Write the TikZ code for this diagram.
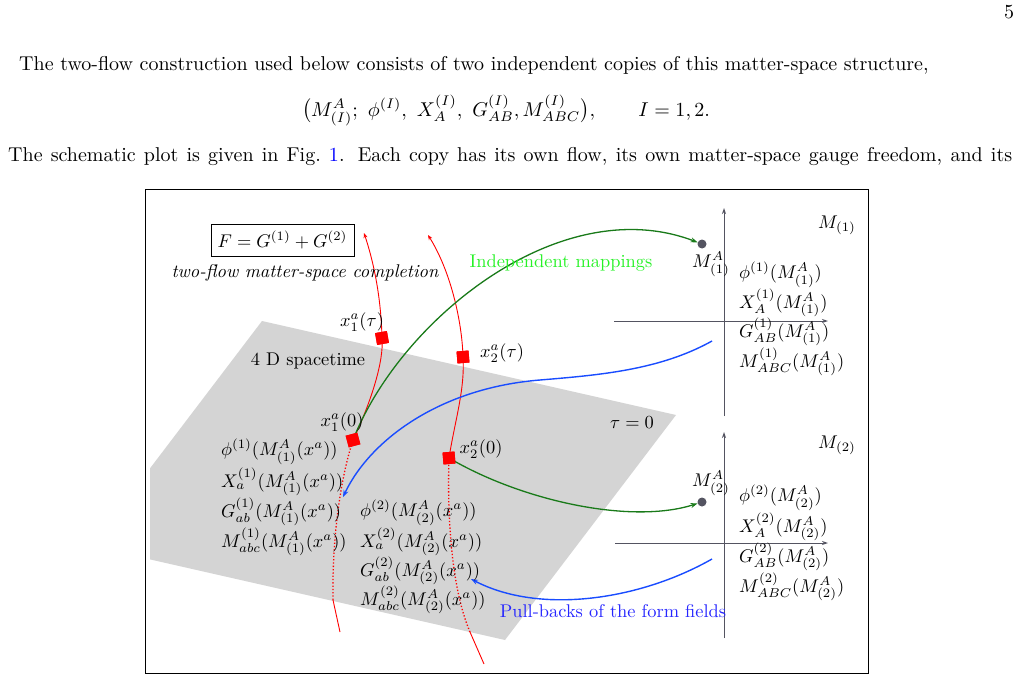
\documentclass[tikz,border=0pt]{standalone}
\usepackage{graphicx}
\usepackage{amsmath}
\usetikzlibrary{arrows.meta}
\newcommand\SBx[1]{\scalebox{1.84}{#1}}
\newcommand\SBp[1]{\scalebox{2.0}{#1}}
\definecolor{grn}{rgb}{0.1,0.48,0.1}
\definecolor{lgrn}{rgb}{0.15,0.95,0.15}
\definecolor{blu}{rgb}{0.1,0.3,1}
\definecolor{blutxt}{rgb}{0.15,0.15,1}
\definecolor{axc}{rgb}{0.33,0.33,0.38}
\definecolor{plane}{gray}{0.83}
\definecolor{linkblue}{rgb}{0,0,1}
\begin{document}
\begin{tikzpicture}[x=1pt,y=-1pt,
  txt/.style={inner sep=0pt},
  sqr/.style={fill=red,minimum size=12pt,inner sep=0pt},
  dotm/.style={circle,fill=axc,minimum size=9pt,inner sep=0pt},
  axis/.style={axc,line width=1pt,-{Stealth[length=6pt,width=4pt]}},
  redc/.style={red,line width=0.9pt},
  reddot/.style={red,line width=1.3pt,dotted},
  grnarr/.style={grn,line width=1.3pt,-{Stealth[length=7pt,width=5pt]}},
  bluarr/.style={blu,line width=1.4pt,-{Stealth[length=7pt,width=5pt]}}]
\useasboundingbox (0,0) rectangle (1020,680);
\fill[white] (0,0) rectangle (1020,680);

% page text
\node[txt,anchor=base] (pn) at (1009,19) {\SBp{5}};
\node[txt,anchor=base west] (l1) at (19,70) {\SBp{The two-flow construction used below consists of two independent copies of this matter-space structure,}};
\node[txt,anchor=base] (eq) at (506,116) {\SBp{$\bigl(M^A_{(I)};\ \phi^{(I)},\ X_A^{(I)},\ G^{(I)}_{AB}, M^{(I)}_{ABC}\bigr),\qquad I=1,2.$}};
\node[txt,anchor=base west] (l3) at (8,161) {\SBp{\hbox to 502pt{The schematic plot is given in Fig.~\textcolor{linkblue}{1}. Each copy has its own flow, its own matter-space gauge freedom, and its}}};

% frame
\draw[line width=0.9pt] (145,189) rectangle (868,673);

% plane
\begin{scope}
\clip (150,190) rectangle (867,672);
\fill[plane] (262,321) -- (676,415) -- (505,640) -- (91,546) -- cycle;
\end{scope}

% axes
\draw[axis] (724,416) -- (724,208);
\draw[axis] (614,321) -- (828,321);
\draw[axis] (724,638) -- (724,432);
\draw[axis] (615,543) -- (828,543);

% squares and dots
\node[sqr,rotate=10] (s1t) at (382,338) {};
\node[sqr,rotate=5] (s2t) at (463,357) {};
\node[sqr,rotate=15] (s1z) at (353,440) {};
\node[sqr,rotate=5] (s2z) at (449,458) {};
\node[dotm] (d1) at (702,244) {};
\node[dotm] (d2) at (702,502) {};

% red curves
\coordinate (r1b) at (340,632);
\coordinate (r1d) at (333,600);
\coordinate (r1t) at (364,233);
\draw[redc] (r1b) -- (r1d);
\draw[reddot] (r1d) .. controls (332,540) and (340,480) .. (s1z.center);
\draw[redc,-{Stealth[length=5pt,width=4pt]}] (s1z.center) .. controls (372,400) and (384,360) .. (s1t.center) .. controls (381,295) and (373,260) .. (r1t);

\coordinate (r2b) at (484,664);
\coordinate (r2d) at (470,632);
\coordinate (r2t) at (428,235);
\draw[redc] (r2b) -- (r2d);
\draw[reddot] (r2d) .. controls (452,590) and (447,520) .. (s2z.center);
\draw[redc,-{Stealth[length=5pt,width=4pt]}] (s2z.center) .. controls (455,420) and (465,390) .. (s2t.center) .. controls (462,320) and (450,270) .. (r2t);

% green mappings
\draw[grnarr] (s1z.center) .. controls (400,320) and (560,190) .. (d1);
\draw[grnarr] (s2z.center) .. controls (520,500) and (630,525) .. (d2);

% blue pull-backs
\coordinate (b1s) at (712,341);
\coordinate (b1m) at (540,380);
\coordinate (b1e) at (343,497);
\coordinate (b2s) at (712,559);
\coordinate (b2e) at (471,579);
\draw[bluarr] (b1s) .. controls (660,370) and (600,375) .. (b1m) .. controls (440,388) and (370,440) .. (b1e);
\draw[bluarr] (b2s) .. controls (640,600) and (540,615) .. (b2e);

% redraw squares on top
\node[sqr,rotate=10] at (s1t) {};
\node[sqr,rotate=5] at (s2t) {};
\node[sqr,rotate=15] at (s1z) {};
\node[sqr,rotate=5] at (s2z) {};

% figure labels
\node[draw,line width=0.9pt,inner sep=0pt,minimum width=143pt,minimum height=32pt] (F) at (282.5,240) {\SBx{$F=G^{(1)}+G^{(2)}$}};
\node[txt] (cmp) at (305,273) {\SBx{\itshape two-flow matter-space completion}};
\node[txt] (spt) at (308,361) {\SBx{4 D spacetime}};
\node[txt] (tau) at (632,423) {\SBx{$\tau=0$}};
\node[txt] (x1t) at (362,322) {\SBx{$x_1^a(\tau)$}};
\node[txt] (x2t) at (502,353) {\SBx{$x_2^a(\tau)$}};
\node[txt] (x1z) at (342,422) {\SBx{$x_1^a(0)$}};
\node[txt] (x2z) at (481,449) {\SBx{$x_2^a(0)$}};
\node[txt,text=lgrn] (ind) at (561,263) {\SBx{Independent mappings}};
\node[txt,text=blutxt] (pb) at (613,611) {\SBx{Pull-backs of the form fields}};

% left stack
\node[txt,anchor=west] (a1) at (221,452) {\SBx{$\phi^{(1)}(M^A_{(1)}(x^a))$}};
\node[txt,anchor=west] (a2) at (221,482) {\SBx{$X_a^{(1)}(M^A_{(1)}(x^a))$}};
\node[txt,anchor=west] (a3) at (221,512) {\SBx{$G_{ab}^{(1)}(M^A_{(1)}(x^a))$}};
\node[txt,anchor=west] (a4) at (221,542) {\SBx{$M_{abc}^{(1)}(M^A_{(1)}(x^a))$}};
\node[txt,anchor=west] (b1) at (360,513) {\SBx{$\phi^{(2)}(M^A_{(2)}(x^a))$}};
\node[txt,anchor=west] (b2) at (360,542) {\SBx{$X_a^{(2)}(M^A_{(2)}(x^a))$}};
\node[txt,anchor=west] (b3) at (360,571) {\SBx{$G_{ab}^{(2)}(M^A_{(2)}(x^a))$}};
\node[txt,anchor=west] (b4) at (360,600) {\SBx{$M_{abc}^{(2)}(M^A_{(2)}(x^a))$}};

% matter space 1
\node[txt] (m1) at (837,225) {\SBx{$M_{(1)}$}};
\node[txt] (ma1) at (711,264) {\SBx{$M^A_{(1)}$}};
\node[txt,anchor=west] (c1) at (739,275) {\SBx{$\phi^{(1)}(M^A_{(1)})$}};
\node[txt,anchor=west] (c2) at (739,303) {\SBx{$X_A^{(1)}(M^A_{(1)})$}};
\node[txt,anchor=west] (c3) at (739,332) {\SBx{$G_{AB}^{(1)}(M^A_{(1)})$}};
\node[txt,anchor=west] (c4) at (739,362) {\SBx{$M_{ABC}^{(1)}(M^A_{(1)})$}};

% matter space 2
\node[txt] (m2) at (837,445) {\SBx{$M_{(2)}$}};
\node[txt] (ma2) at (711,483) {\SBx{$M^A_{(2)}$}};
\node[txt,anchor=west] (e1) at (739,498) {\SBx{$\phi^{(2)}(M^A_{(2)})$}};
\node[txt,anchor=west] (e2) at (739,527) {\SBx{$X_A^{(2)}(M^A_{(2)})$}};
\node[txt,anchor=west] (e3) at (739,557) {\SBx{$G_{AB}^{(2)}(M^A_{(2)})$}};
\node[txt,anchor=west] (e4) at (739,587) {\SBx{$M_{ABC}^{(2)}(M^A_{(2)})$}};
\end{tikzpicture}
\end{document}
